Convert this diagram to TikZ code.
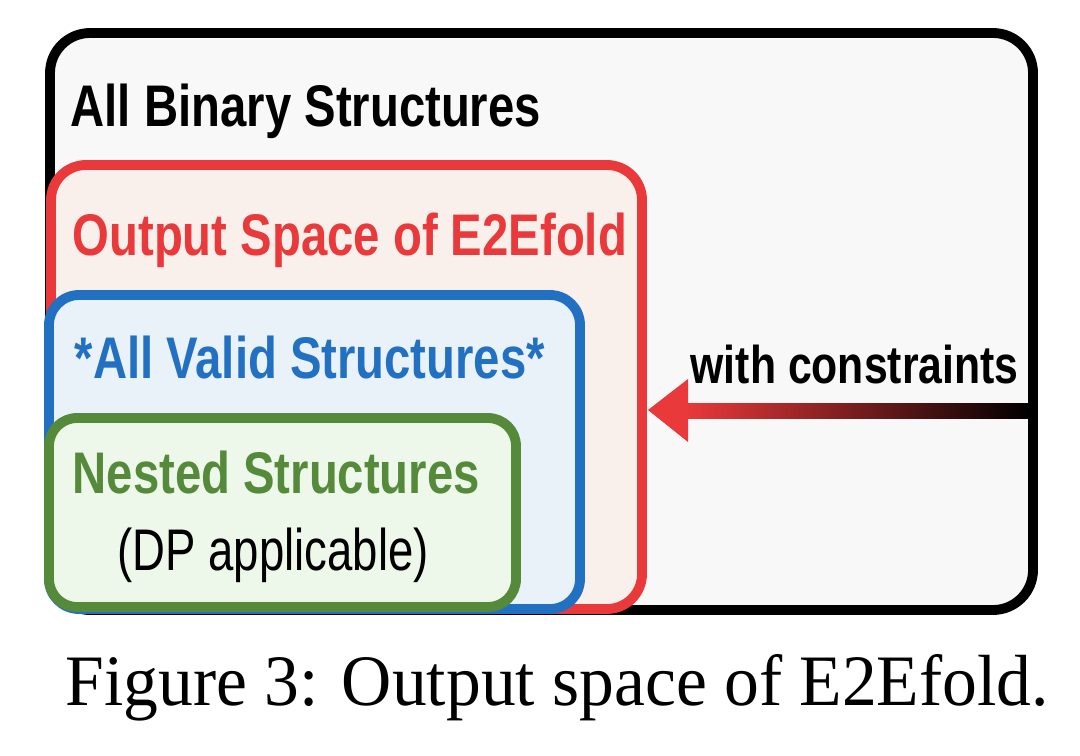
\documentclass[tikz,border=0pt]{standalone}
\usepackage{fontspec}
\setmainfont{Liberation Serif}
\newfontfamily\boxfont[FakeStretch=0.805]{Liberation Sans}
\newfontfamily\notefont[FakeStretch=0.775]{Liberation Sans}
\newfontfamily\capfont[FakeStretch=0.96]{Liberation Serif}

\definecolor{setred}{HTML}{E9393A}
\definecolor{setblue}{HTML}{2270C1}
\definecolor{setgreen}{HTML}{568A3B}
\definecolor{allfill}{HTML}{F8F8F8}
\definecolor{redfill}{HTML}{FAF0EB}
\definecolor{bluefill}{HTML}{EAF2F9}
\definecolor{greenfill}{HTML}{EEF8EA}

\begin{document}
\begin{tikzpicture}[
    x=0.01cm,
    y=-0.01cm,
    region/.style={
      line width=2.8pt
    },
    title/.style={
      anchor=base west,
      inner sep=0pt,
      font=\boxfont\bfseries\fontsize{16.7}{20}\selectfont
    },
    note/.style={
      anchor=base west,
      inner sep=0pt,
      font=\notefont\fontsize{16.7}{20}\selectfont
    }
  ]

    \useasboundingbox[fill=white] (0,0) rectangle (1080,755);

    % Outer set: all binary structures
    \draw[region, draw=black, fill=allfill, rounded corners=0.4cm] (50,33) rectangle (1033,610);
    \node[title] (allbin) at (70,127) {All Binary Structures};

    % Output space of E2Efold
    \draw[region, draw=setred, fill=redfill, rounded corners=0.35cm] (51,165) rectangle (642,609);
    \node[title, text=setred] (outspace) at (72,255) {Output Space of E2Efold};

    % Valid structures
    \draw[region, draw=setblue, fill=bluefill, rounded corners=0.3cm] (49,295) rectangle (580,609);
    \node[title, text=setblue] (valid) at (74,378) {*All Valid Structures*};

    % Nested structures
    \draw[region, draw=setgreen, fill=greenfill, rounded corners=0.28cm] (49,418) rectangle (516,607);
    \node[title, text=setgreen] (nested) at (72,493) {Nested Structures};
    \node[note] (dp) at (117,570) {(DP applicable)};

    % Constraint arrow (black border to red border)
    \coordinate (tail) at (1030,410);
    \coordinate (tip) at (648,410);
    \shade[left color=setred, right color=black] (686,403) rectangle (tail |- 0,418);
    \fill[setred] (tip) -- (688,379) -- (688,442) -- cycle;
    \node[title, font=\boxfont\bfseries\fontsize{15.1}{18}\selectfont] (constr) at (690,383) {with constraints};

    % Caption
    \node[anchor=base west, inner sep=0pt, font=\capfont\fontsize{20.6}{24}\selectfont] (caption) at (65,705) {Figure 3: Output space of E2Efold.};

  \end{tikzpicture}
\end{document}
